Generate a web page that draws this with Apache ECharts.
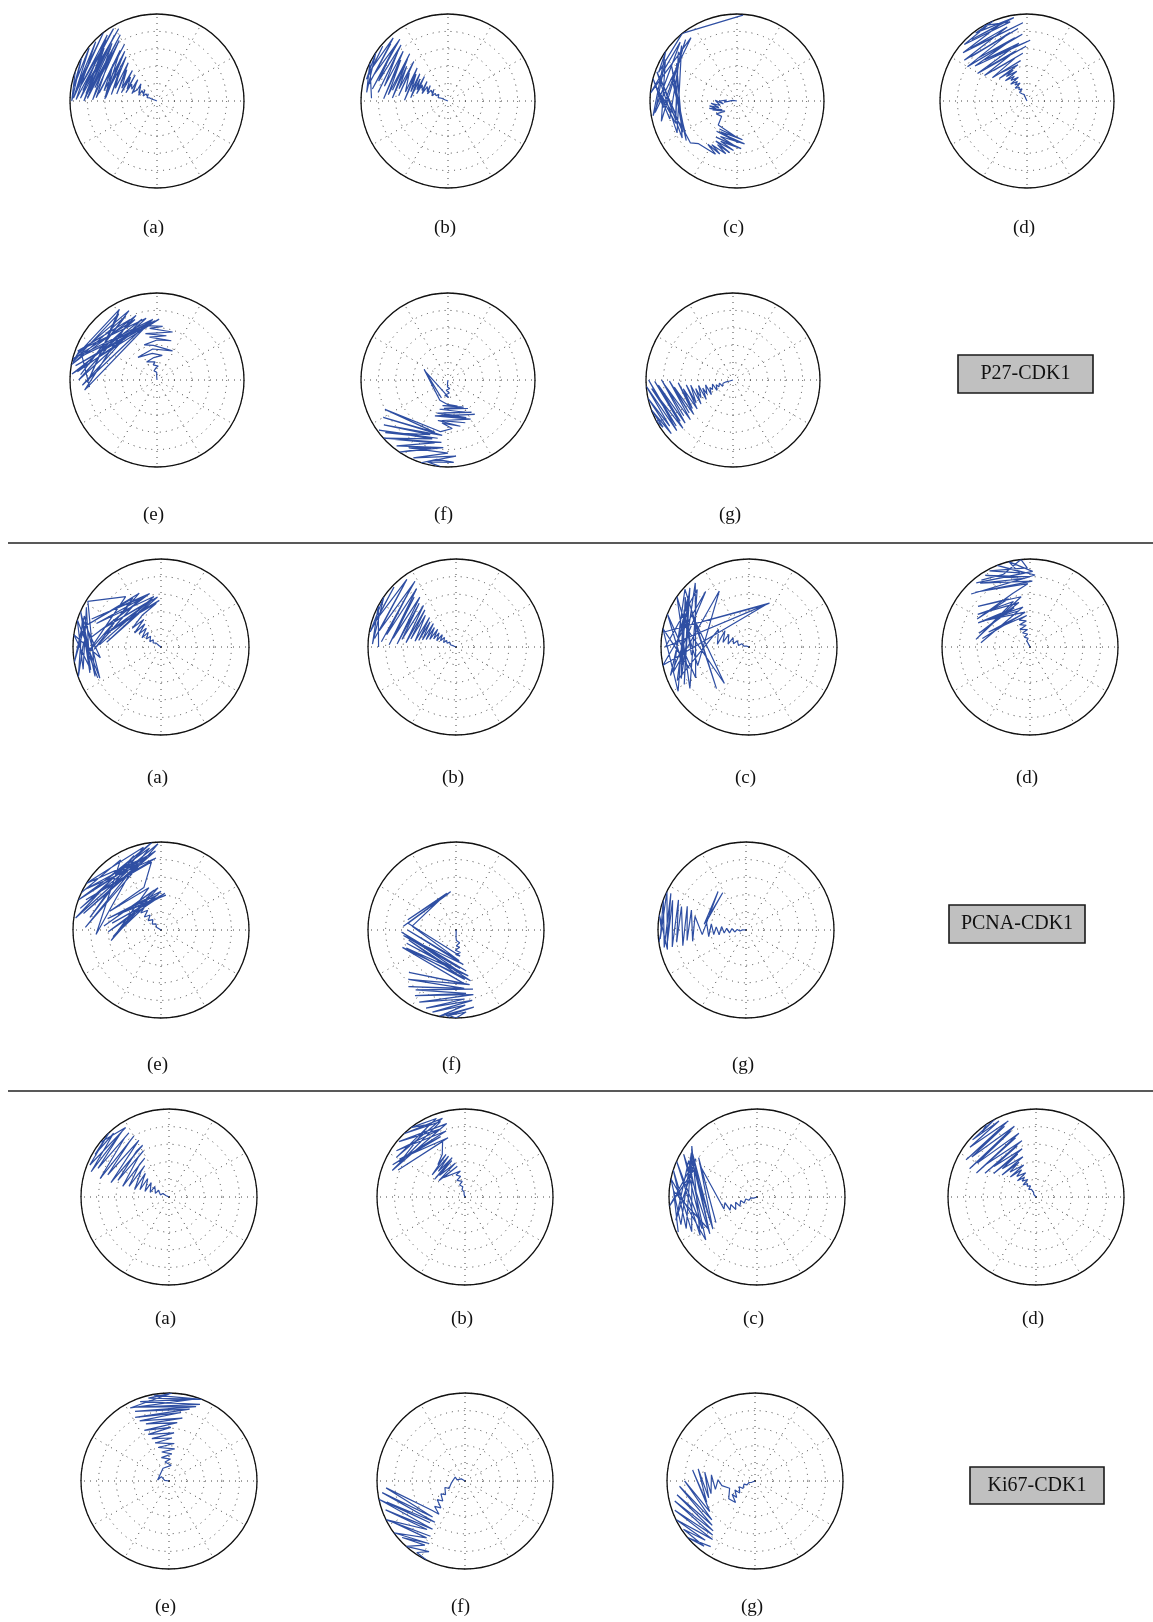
<!DOCTYPE html>
<html><head><meta charset="utf-8">
<script src="https://cdn.jsdelivr.net/npm/echarts@6/dist/echarts.min.js"></script>
<style>html,body{margin:0;padding:0;background:#fff}#c{width:1153px;height:1622px}</style>
</head><body><div id="c"></div>
<script>
// ---- data: [radius, angle(deg)] ----
const panelLetters = ['(a)','(b)','(c)','(d)','(e)','(f)','(g)'];
const groupNames = ['P27-CDK1','PCNA-CDK1','Ki67-CDK1'];

const p27A = [[0,152],[0.03,158],[0.04,149],[0.06,160],[0.07,146],[0.09,157],[0.1,151],[0.12,162],[0.13,140],[0.12,155],[0.15,147],[0.17,160],[0.19,137],[0.18,152],[0.21,145],[0.22,163],[0.25,139],[0.23,156],[0.27,133],[0.26,150],[0.29,160],[0.31,141],[0.3,164],[0.33,132],[0.32,155],[0.35,146],[0.37,165],[0.39,130],[0.37,158],[0.41,138],[0.42,167],[0.45,129],[0.43,160],[0.5,134],[0.47,170],[0.55,127],[0.5,163],[0.58,136],[0.53,172],[0.62,125],[0.57,166],[0.64,131],[0.59,176],[0.68,123],[0.62,169],[0.66,140],[0.6,178],[0.72,126],[0.67,172],[0.75,120],[0.7,177],[0.78,131],[0.73,168],[0.82,122],[0.74,179],[0.84,128],[0.78,172],[0.87,119],[0.8,178],[0.86,135],[0.82,174],[0.9,123],[0.84,180],[0.92,130],[0.86,172],[0.94,118],[0.88,178],[0.95,127],[0.9,170],[0.97,121],[0.93,179],[0.98,136],[0.94,172],[1.0,128],[0.96,178],[0.99,142],[0.97,170],[1.0,150],[0.98,180],[1.0,160]];
const p27B = [[0,155],[0.02,150],[0.04,159],[0.06,147],[0.08,157],[0.1,152],[0.12,161],[0.13,144],[0.15,156],[0.17,149],[0.19,162],[0.21,141],[0.2,155],[0.23,147],[0.25,161],[0.27,139],[0.26,156],[0.29,145],[0.31,164],[0.33,137],[0.32,158],[0.35,148],[0.37,167],[0.39,134],[0.38,160],[0.41,142],[0.43,175],[0.45,136],[0.44,166],[0.48,140],[0.5,179],[0.52,133],[0.5,168],[0.55,144],[0.57,174],[0.6,131],[0.58,166],[0.62,140],[0.64,177],[0.67,134],[0.65,169],[0.7,129],[0.69,174],[0.72,139],[0.74,178],[0.77,132],[0.75,167],[0.8,137],[0.81,173],[0.84,130],[0.83,164],[0.87,136],[0.88,171],[0.9,128],[0.9,160],[0.93,135],[0.93,168],[0.96,131],[0.95,156],[0.98,140],[0.97,165],[1.0,146],[0.94,174],[1.0,154],[0.88,178]];
const p27C = [[0,180],[0.05,172],[0.1,182],[0.08,170],[0.15,185],[0.12,175],[0.2,180],[0.16,192],[0.25,178],[0.2,195],[0.3,185],[0.22,200],[0.32,190],[0.24,205],[0.33,195],[0.2,210],[0.3,200],[0.18,220],[0.28,212],[0.25,225],[0.35,232],[0.42,270],[0.38,238],[0.45,278],[0.4,242],[0.48,272],[0.42,236],[0.5,280],[0.45,245],[0.52,268],[0.48,240],[0.55,275],[0.5,248],[0.57,266],[0.52,242],[0.6,262],[0.55,246],[0.62,258],[0.58,240],[0.64,252],[0.6,236],[0.66,248],[0.66,228],[0.72,222],[0.7,212],[0.8,160],[0.74,218],[0.85,152],[0.72,210],[0.9,165],[0.76,214],[0.82,148],[0.7,205],[0.95,170],[0.75,200],[0.88,140],[0.72,192],[0.98,160],[0.78,208],[0.9,135],[0.8,195],[1.0,165],[0.85,185],[0.92,130],[0.9,195],[0.95,150],[0.95,188],[0.9,126],[1.0,175],[0.94,134],[0.98,190],[1.0,145],[0.96,160],[1.0,129],[0.99,86]];
const p27D = [[0,120],[0.02,126],[0.04,116],[0.06,128],[0.08,113],[0.1,124],[0.11,118],[0.13,131],[0.15,112],[0.16,126],[0.18,119],[0.2,133],[0.22,111],[0.23,127],[0.25,116],[0.27,134],[0.29,110],[0.3,128],[0.32,117],[0.34,137],[0.36,109],[0.37,130],[0.39,114],[0.41,141],[0.43,104],[0.45,136],[0.47,99],[0.48,146],[0.51,106],[0.52,138],[0.55,95],[0.57,149],[0.59,103],[0.6,140],[0.63,91],[0.65,151],[0.67,98],[0.68,136],[0.7,87],[0.72,146],[0.74,101],[0.75,139],[0.77,94],[0.79,150],[0.81,104],[0.82,142],[0.84,97],[0.86,147],[0.88,105],[0.89,137],[0.9,93],[0.92,143],[0.94,108],[0.95,132],[0.97,99],[0.98,127],[1.0,113],[0.97,138],[0.93,102],[1.0,120]];
const p27E = [[0,100],[0.04,95],[0.06,105],[0.09,92],[0.11,108],[0.14,95],[0.16,85],[0.18,104],[0.21,96],[0.24,120],[0.26,98],[0.29,78],[0.31,100],[0.34,130],[0.36,98],[0.38,62],[0.4,96],[0.43,110],[0.46,90],[0.48,70],[0.5,100],[0.52,78],[0.55,104],[0.58,72],[0.6,98],[0.62,84],[0.64,102],[0.68,92],[0.9,162],[0.66,100],[0.95,170],[0.7,88],[0.98,176],[0.72,104],[0.86,184],[0.69,96],[1.0,166],[0.74,110],[0.92,174],[0.7,94],[0.84,188],[0.76,114],[0.97,160],[0.72,100],[0.9,180],[0.78,108],[1.0,170],[0.82,116],[0.88,176],[0.86,112],[0.96,162],[0.92,118],[0.8,182],[0.88,120],[0.99,168],[0.95,158],[0.78,186]];
const p27F = [[0,270],[0.04,262],[0.06,280],[0.08,266],[0.1,282],[0.12,260],[0.15,276],[0.18,258],[0.2,272],[0.29,158],[0.22,250],[0.3,156],[0.25,248],[0.28,268],[0.32,290],[0.3,258],[0.36,300],[0.33,262],[0.4,305],[0.35,254],[0.42,298],[0.38,262],[0.46,306],[0.4,252],[0.48,296],[0.42,260],[0.5,308],[0.44,250],[0.52,300],[0.47,262],[0.53,292],[0.48,256],[0.55,285],[0.5,262],[0.56,275],[0.6,262],[0.8,205],[0.62,256],[0.86,210],[0.64,264],[0.9,215],[0.66,252],[0.94,220],[0.68,260],[0.98,216],[0.7,255],[1.0,222],[0.72,264],[0.92,228],[0.74,258],[0.96,232],[0.78,266],[1.0,236],[0.8,256],[0.9,240],[0.84,270],[0.98,246],[0.88,276],[1.0,252],[0.92,262],[0.95,274],[0.97,256],[1.0,265]];
const p27G = [[0,200],[0.02,205],[0.04,197],[0.06,209],[0.08,195],[0.1,204],[0.12,198],[0.14,211],[0.16,193],[0.18,206],[0.2,196],[0.22,213],[0.24,191],[0.26,205],[0.28,198],[0.3,214],[0.32,190],[0.34,208],[0.36,195],[0.38,216],[0.4,189],[0.42,209],[0.44,193],[0.46,217],[0.49,187],[0.5,212],[0.54,186],[0.53,219],[0.58,190],[0.57,215],[0.63,183],[0.6,221],[0.68,187],[0.63,217],[0.73,181],[0.67,223],[0.78,185],[0.7,216],[0.82,180],[0.74,222],[0.86,184],[0.77,218],[0.9,181],[0.8,224],[0.94,186],[0.84,219],[0.97,180],[0.87,222],[1.0,184],[0.9,216],[1.0,192],[0.94,221],[1.0,200],[0.97,214],[1.0,208],[0.92,210]];

const pcnaA = [[0,150],[0.03,144],[0.05,156],[0.07,141],[0.1,153],[0.12,137],[0.14,155],[0.17,134],[0.19,151],[0.22,131],[0.24,154],[0.27,128],[0.29,149],[0.32,125],[0.34,152],[0.37,122],[0.39,147],[0.42,120],[0.5,96],[0.6,160],[0.53,92],[0.66,168],[0.55,100],[0.62,175],[0.57,94],[0.72,165],[0.54,104],[0.7,178],[0.58,98],[0.78,160],[0.6,108],[0.8,172],[0.62,102],[0.85,158],[0.6,114],[0.76,182],[0.64,120],[0.9,165],[0.66,112],[0.84,185],[0.7,125],[0.98,148],[0.82,204],[1.0,156],[0.86,200],[0.96,152],[0.92,196],[1.0,162],[0.78,207],[0.94,158],[1.0,190],[0.9,166],[0.84,198],[1.0,172],[0.7,190],[0.95,160],[1.0,200],[0.88,176],[0.8,206]];
const pcnaB = [[0,150],[0.03,156],[0.05,145],[0.07,158],[0.09,142],[0.11,157],[0.13,145],[0.15,160],[0.17,140],[0.19,158],[0.21,138],[0.23,162],[0.25,140],[0.27,160],[0.29,136],[0.31,164],[0.33,138],[0.35,166],[0.37,134],[0.39,168],[0.41,136],[0.43,170],[0.45,132],[0.47,172],[0.5,134],[0.52,170],[0.55,130],[0.57,175],[0.6,128],[0.62,172],[0.65,130],[0.67,177],[0.7,126],[0.72,172],[0.74,130],[0.76,178],[0.8,124],[0.8,170],[0.84,128],[0.85,176],[0.88,122],[0.89,168],[0.92,130],[0.93,174],[0.95,126],[0.96,162],[0.98,136],[0.99,170],[1.0,145],[0.95,178],[1.0,152],[0.88,180]];
const pcnaC = [[0,165],[0.03,158],[0.06,170],[0.09,155],[0.12,172],[0.15,152],[0.18,168],[0.21,150],[0.24,172],[0.27,148],[0.3,170],[0.33,146],[0.36,175],[0.4,150],[0.9,205],[0.95,135],[0.85,210],[0.9,140],[0.95,200],[0.8,128],[1.0,192],[0.52,68],[0.98,170],[0.55,65],[0.95,180],[0.88,132],[0.82,215],[1.0,145],[0.62,200],[0.72,118],[0.9,198],[0.98,138],[0.6,232],[0.75,150],[0.5,236],[0.8,160],[0.85,205],[0.95,130],[0.7,210],[1.0,158],[0.78,195],[0.92,142],[0.66,188],[0.85,150],[0.95,212],[1.0,168],[0.72,200]];
const pcnaD = [[0,110],[0.03,116],[0.05,104],[0.08,118],[0.1,102],[0.13,120],[0.15,100],[0.18,118],[0.2,98],[0.23,120],[0.25,100],[0.28,115],[0.3,98],[0.33,112],[0.36,96],[0.5,160],[0.38,104],[0.55,170],[0.4,98],[0.6,150],[0.43,108],[0.56,175],[0.46,100],[0.65,155],[0.48,112],[0.6,165],[0.52,104],[0.7,148],[0.55,110],[0.62,172],[0.58,100],[0.75,142],[0.6,114],[0.68,152],[0.64,108],[0.72,92],[0.88,135],[0.75,88],[0.92,128],[0.78,94],[0.96,122],[0.8,90],[0.9,138],[0.82,86],[1.0,112],[0.84,94],[0.95,130],[0.86,88],[1.0,104],[0.85,98],[0.98,118],[0.9,92],[1.0,96],[0.88,110],[0.94,126]];
const pcnaE = [[0,140],[0.03,134],[0.06,148],[0.09,130],[0.12,146],[0.15,128],[0.18,144],[0.21,126],[0.24,142],[0.27,124],[0.3,140],[0.33,122],[0.36,138],[0.38,88],[0.45,150],[0.4,82],[0.52,160],[0.38,92],[0.56,172],[0.42,84],[0.6,182],[0.4,96],[0.62,168],[0.44,90],[0.55,188],[0.46,100],[0.65,176],[0.48,94],[0.58,192],[0.5,106],[0.62,160],[0.52,112],[0.78,98],[0.92,158],[0.82,94],[0.98,152],[0.86,100],[0.9,168],[0.9,94],[1.0,160],[0.94,98],[0.86,178],[0.98,92],[0.95,165],[1.0,96],[0.9,150],[0.84,104],[1.0,148],[0.96,102],[0.82,170],[0.9,110],[0.98,172],[0.8,112],[0.74,184],[0.92,120],[1.0,155]];
const pcnaF = [[0,280],[0.03,274],[0.05,285],[0.08,270],[0.1,283],[0.12,272],[0.15,286],[0.18,271],[0.2,282],[0.23,268],[0.26,281],[0.28,270],[0.3,279],[0.55,172],[0.42,102],[0.6,176],[0.44,98],[0.56,168],[0.43,104],[0.5,175],[0.35,276],[0.55,180],[0.4,282],[0.6,186],[0.44,276],[0.52,190],[0.48,284],[0.62,182],[0.5,278],[0.58,195],[0.54,285],[0.6,200],[0.57,280],[0.55,192],[0.6,286],[0.64,198],[0.62,279],[0.72,222],[0.64,284],[0.78,226],[0.67,278],[0.84,230],[0.7,286],[0.82,236],[0.73,279],[0.88,238],[0.76,285],[0.92,243],[0.79,277],[0.95,249],[0.82,283],[0.97,254],[0.86,277],[1.0,259],[0.9,283],[0.98,264],[0.94,277],[1.0,270],[0.96,262],[1.0,266]];
const pcnaG = [[0,185],[0.04,178],[0.07,190],[0.1,176],[0.13,190],[0.16,174],[0.19,190],[0.22,175],[0.25,188],[0.28,172],[0.31,190],[0.34,174],[0.37,188],[0.4,170],[0.43,190],[0.46,168],[0.5,122],[0.48,172],[0.54,126],[0.5,186],[0.6,165],[0.62,192],[0.66,160],[0.68,190],[0.72,158],[0.74,194],[0.78,160],[0.8,190],[0.84,156],[0.86,193],[0.9,158],[0.9,188],[0.95,154],[0.95,192],[1.0,160],[0.98,186],[1.0,154],[0.92,194],[1.0,170],[0.96,180],[1.0,188]];

const ki67A = [[0,160],[0.02,166],[0.04,154],[0.06,163],[0.08,150],[0.1,166],[0.12,155],[0.14,147],[0.16,165],[0.18,151],[0.2,144],[0.22,166],[0.24,150],[0.26,141],[0.28,167],[0.3,146],[0.32,139],[0.34,166],[0.36,143],[0.38,135],[0.4,168],[0.43,138],[0.45,128],[0.47,165],[0.5,132],[0.52,122],[0.54,167],[0.57,128],[0.6,119],[0.61,162],[0.64,125],[0.66,117],[0.68,166],[0.7,123],[0.73,118],[0.74,160],[0.77,126],[0.8,120],[0.81,165],[0.84,127],[0.86,122],[0.87,158],[0.9,129],[0.92,125],[0.93,162],[0.96,131],[0.97,150],[1.0,133],[0.97,158],[0.93,122],[1.0,142]];
const ki67B = [[0,105],[0.03,110],[0.06,100],[0.09,112],[0.12,102],[0.15,114],[0.18,100],[0.21,116],[0.24,102],[0.27,112],[0.3,100],[0.33,138],[0.36,104],[0.35,148],[0.4,106],[0.38,140],[0.44,110],[0.4,150],[0.47,108],[0.42,136],[0.5,112],[0.45,146],[0.53,114],[0.48,130],[0.55,118],[0.68,112],[0.82,158],[0.7,106],[0.86,150],[0.74,112],[0.9,156],[0.78,106],[0.94,146],[0.82,110],[0.98,140],[0.86,104],[0.88,160],[0.9,108],[1.0,134],[0.93,106],[0.9,150],[0.95,110],[1.0,128],[0.92,116],[0.84,152]];
const ki67C = [[0,190],[0.04,198],[0.07,188],[0.1,202],[0.13,190],[0.16,205],[0.19,192],[0.22,208],[0.25,194],[0.28,210],[0.31,196],[0.34,206],[0.37,190],[0.4,200],[0.72,152],[0.55,212],[0.8,146],[0.62,216],[0.86,150],[0.6,208],[0.92,144],[0.68,218],[0.96,150],[0.72,210],[1.0,156],[0.78,214],[0.94,142],[0.84,208],[1.0,162],[0.88,204],[0.9,146],[0.92,200],[1.0,168],[0.76,220],[0.88,152],[0.96,196],[0.82,148],[1.0,186],[0.78,156],[0.66,214],[0.95,176],[0.98,204]];
const ki67D = [[0,125],[0.02,121],[0.04,130],[0.06,117],[0.08,128],[0.1,121],[0.12,134],[0.14,116],[0.16,129],[0.18,122],[0.2,137],[0.22,115],[0.24,131],[0.26,120],[0.28,139],[0.3,113],[0.32,133],[0.35,118],[0.37,142],[0.39,111],[0.41,136],[0.44,116],[0.46,147],[0.48,108],[0.5,140],[0.53,113],[0.55,151],[0.57,106],[0.59,144],[0.62,110],[0.64,155],[0.66,104],[0.68,147],[0.71,109],[0.73,158],[0.75,105],[0.77,150],[0.8,111],[0.82,157],[0.84,107],[0.86,148],[0.88,114],[0.9,152],[0.92,110],[0.94,143],[0.96,116],[0.97,138],[1.0,118],[0.96,130],[1.0,124]];
const ki67E = [[0,160],[0.05,172],[0.1,150],[0.13,175],[0.16,115],[0.18,82],[0.22,102],[0.25,86],[0.28,108],[0.31,84],[0.34,104],[0.37,80],[0.4,108],[0.43,82],[0.46,110],[0.49,86],[0.52,112],[0.55,84],[0.58,114],[0.61,88],[0.64,116],[0.67,82],[0.7,112],[0.73,78],[0.76,116],[0.79,80],[0.82,118],[0.85,74],[0.88,116],[0.9,70],[0.92,114],[0.94,68],[0.96,110],[0.98,72],[0.94,118],[1.0,88],[0.97,104],[1.0,68],[0.99,100]];
const ki67F = [[0,180],[0.05,150],[0.09,172],[0.12,158],[0.16,190],[0.2,205],[0.24,198],[0.27,215],[0.31,208],[0.34,222],[0.38,214],[0.41,228],[0.45,220],[0.48,232],[0.5,222],[0.9,185],[0.55,228],[0.95,188],[0.58,234],[0.92,195],[0.62,230],[1.0,192],[0.66,236],[0.96,200],[0.7,232],[1.0,206],[0.74,238],[0.94,210],[0.78,236],[1.0,216],[0.82,240],[0.96,222],[0.86,238],[1.0,228],[0.9,243],[0.98,236],[1.0,244]];
const ki67G = [[0,195],[0.04,202],[0.07,194],[0.1,206],[0.13,196],[0.16,212],[0.19,200],[0.22,218],[0.25,204],[0.28,222],[0.3,210],[0.33,228],[0.36,214],[0.3,196],[0.38,188],[0.42,178],[0.46,192],[0.5,172],[0.52,196],[0.58,170],[0.56,200],[0.66,168],[0.6,204],[0.72,170],[0.62,214],[0.8,180],[0.66,222],[0.86,184],[0.7,226],[0.9,190],[0.74,230],[0.94,194],[0.78,232],[0.97,200],[0.82,234],[1.0,206],[0.88,230],[0.98,214],[0.94,232],[1.0,220],[0.9,236]];

const groups = [
  [p27A, p27B, p27C, p27D, p27E, p27F, p27G],
  [pcnaA, pcnaB, pcnaC, pcnaD, pcnaE, pcnaF, pcnaG],
  [ki67A, ki67B, ki67C, ki67D, ki67E, ki67F, ki67G]
];

// ---- layout (pixels) ----
const layout = [
  {rows:[{y:101, xs:[157,448,737,1027]},{y:380, xs:[157,448,733]}], labelY:[230,517], r:87, box:[958,355,135,38]},
  {rows:[{y:647, xs:[161,456,749,1030]},{y:930, xs:[161,456,746]}], labelY:[780,1067], r:88, box:[949,905,136,38]},
  {rows:[{y:1197,xs:[169,465,757,1036]},{y:1481,xs:[169,465,755]}], labelY:[1321,1609], r:88, box:[970,1467,134,37]}
];
const dividers = [543, 1091];

const BLUE = '#2f4fa3';
const polar = [], angleAxis = [], radiusAxis = [], series = [], graphic = [];
let idx = 0;
groups.forEach((g, gi) => {
  const L = layout[gi];
  g.forEach((data, pi) => {
    const row = pi < 4 ? 0 : 1;
    const col = pi < 4 ? pi : pi - 4;
    const cx = L.rows[row].xs[col], cy = L.rows[row].y;
    polar.push({center:[cx, cy], radius: L.r});
    angleAxis.push({polarIndex: idx, type:'value', min:0, max:360, interval:30, startAngle:0, clockwise:false,
      axisLine:{show:true, lineStyle:{color:'#111', width:1.3}}, axisTick:{show:false}, axisLabel:{show:false},
      splitLine:{show:true, lineStyle:{color:'#444', width:1, type:[1,5], dashOffset:3}}, z:1});
    radiusAxis.push({polarIndex: idx, type:'value', min:0, max:1, interval:0.2,
      axisLine:{show:false}, axisTick:{show:false}, axisLabel:{show:false},
      splitLine:{show:true, lineStyle:{color:'#444', width:1, type:[1,5]}}});
    series.push({type:'line', coordinateSystem:'polar', polarIndex: idx, data: data, symbol:'none', showSymbol:false,
      lineStyle:{color: BLUE, width:1.2}, animation:false, z:3});
    graphic.push({type:'text', left: cx - 14, top: L.labelY[row] - 11,
      style:{text: panelLetters[pi], font:'19px "Liberation Serif", "DejaVu Serif", serif', fill:'#111'}});
    idx++;
  });
  const b = L.box;
  graphic.push({type:'rect', shape:{x:b[0], y:b[1], width:b[2], height:b[3]},
    style:{fill:'#c0c0c0', stroke:'#1a1a1a', lineWidth:1.6}});
  graphic.push({type:'text', x: b[0] + b[2]/2, y: b[1] + b[3]/2,
    style:{text: groupNames[gi], font:'20px "Liberation Serif", "DejaVu Serif", serif', fill:'#111', align:'center', verticalAlign:'middle'}});
});
dividers.forEach(y => graphic.push({type:'line', shape:{x1:8, y1:y, x2:1153, y2:y}, style:{stroke:'#222', lineWidth:1.5}}));

const chart = echarts.init(document.getElementById('c'), null, {renderer:'canvas'});
chart.setOption({animation:false, backgroundColor:'#fff', polar, angleAxis, radiusAxis, series, graphic});
</script></body></html>
